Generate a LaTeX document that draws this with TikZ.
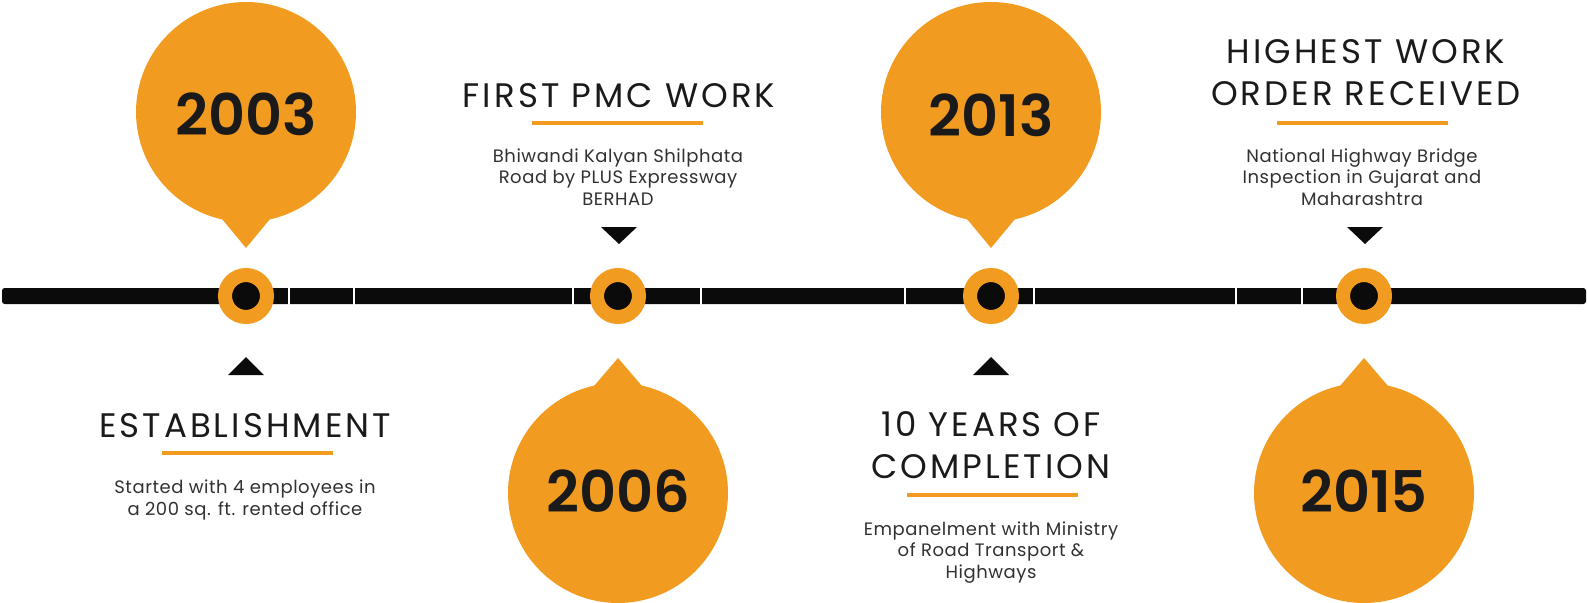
\documentclass[tikz,border=0pt]{standalone}
\usepackage{fontspec}
\setmainfont{Poppins}[BoldFont={Poppins SemiBold}]
\newfontfamily\headfont{Poppins}[LetterSpace=9]
\newfontfamily\descfont{Poppins}[LetterSpace=3]
\usetikzlibrary{positioning}
\definecolor{tlorange}{HTML}{F29B21}
\definecolor{tlblack}{HTML}{0B0B0B}
\definecolor{tltext}{HTML}{1A1A1A}

\begin{document}
\begin{tikzpicture}[x=0.75pt, y=-0.75pt,
    year/.style={font=\fontsize{43}{43}\selectfont\bfseries, text=tltext, inner sep=0pt, anchor=base},
    head/.style={font=\headfont\fontsize{25.5}{31.5}\selectfont, text=tltext, align=center, inner sep=0pt, anchor=base},
    desc/.style={font=\descfont\fontsize{13.5}{16}\selectfont, text=tltext!90, align=center, inner sep=0pt, anchor=base},
    marker/.style={circle, fill=tlblack, draw=tlorange, line width=10.5pt, minimum size=31.5pt, inner sep=0pt},
    underline/.style={draw=tlorange, line width=2.6pt}]
        \useasboundingbox (0,0) rectangle (1588,603);

        % timeline bar
        \fill [tlblack, rounded corners=2pt] (2,288) rectangle (1586,304);
        \foreach \g in {289,354,573,701,905,1034,1236,1302}
            \draw [white, line width=1.8pt] (\g,285) -- (\g,307);

        % bubbles
        \fill [tlorange] (246,112) circle [radius=82.5pt];
        \fill [tlorange] (222,219) -- (246,248) -- (270,219) -- cycle;
        \fill [tlorange] (618,493) circle [radius=82.5pt];
        \fill [tlorange] (594,386) -- (618,358) -- (642,386) -- cycle;
        \fill [tlorange] (991,112) circle [radius=82.5pt];
        \fill [tlorange] (967,219) -- (991,248) -- (1015,219) -- cycle;
        \fill [tlorange] (1364,493) circle [radius=82.5pt];
        \fill [tlorange] (1340,386) -- (1364,358) -- (1388,386) -- cycle;

        \node [year] (y2003) at (246,135) {2003};
        \node [year] (y2006) at (618,512) {2006};
        \node [year] (y2013) at (991,136) {2013};
        \node [year] (y2015) at (1364,512) {2015};

        % markers on the bar
        \node [marker] (m2003) at (246,296) {};
        \node [marker] (m2006) at (618,296) {};
        \node [marker] (m2013) at (991,296) {};
        \node [marker] (m2015) at (1364,296) {};

        % pointers
        \fill [tlblack] (228,375) -- (246,357) -- (264,375) -- cycle;
        \fill [tlblack] (601,227) -- (619,244) -- (637,227) -- cycle;
        \fill [tlblack] (973,375) -- (991,357) -- (1009,375) -- cycle;
        \fill [tlblack] (1347,227) -- (1365,244) -- (1383,227) -- cycle;

        % headings (base = last line)
        \node [head] (h2003) at (245,437) {ESTABLISHMENT};
        \node [head] (h2006) at (619,107) {FIRST PMC WORK};
        \node [head] (h2013) at (991,478) {10 YEARS OF\\COMPLETION};
        \node [head] (h2015) at (1366,105) {HIGHEST WORK\\ORDER RECEIVED};

        \draw [underline] (162,453) -- (333,453);
        \draw [underline] (532,123) -- (703,123);
        \draw [underline] (907,495) -- (1078,495);
        \draw [underline] (1277,123) -- (1448,123);

        % descriptions (base = last line)
        \node [desc] (d2003) at (245,515) {Started with 4 employees in\\a 200 sq. ft. rented office};
        \node [desc] (d2006) at (618,205) {Bhiwandi Kalyan Shilphata\\Road by PLUS Expressway\\BERHAD};
        \node [desc] (d2013) at (991,578) {Empanelment with Ministry\\of Road Transport \&\\Highways};
        \node [desc] (d2015) at (1362,205) {National Highway Bridge\\Inspection in Gujarat and\\Maharashtra};
\end{tikzpicture}
\end{document}
